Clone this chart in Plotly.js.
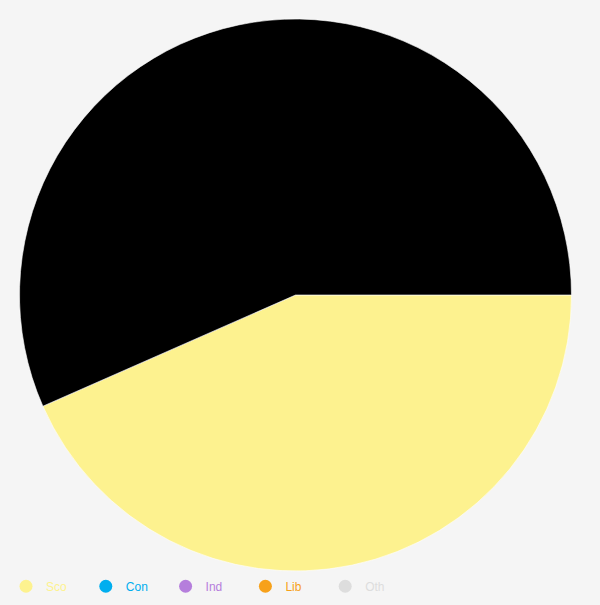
<!DOCTYPE html>
<html>
<head>
<meta charset="utf-8">
<script src="https://cdn.plot.ly/plotly-3.0.1.min.js"></script>
<style>html,body{margin:0;padding:0;background:#f5f5f5;}#chart{width:600px;height:605px;}</style>
</head>
<body>
<div id="chart"></div>
<script>
const sliceLabels = ["Sco", "Rest"];
const sliceValues = [43.4, 56.6];
const sliceColors = ["#fdf28f", "#000000"];

const legendNames = ["Sco", "Con", "Ind", "Lib", "Oth"];
const legendColors = ["#fdf28f", "#00aeef", "#b57edc", "#f7a11a", "#dddddd"];

const traces = [{
  type: "pie",
  labels: sliceLabels,
  values: sliceValues,
  marker: {colors: sliceColors, line: {color: "#ffffff", width: 0.6}},
  sort: false,
  direction: "clockwise",
  rotation: 90,
  textinfo: "none",
  hoverinfo: "label+percent",
  showlegend: false
}];
legendNames.forEach((n, i) => {
  traces.push({
    type: "scatter",
    mode: "markers",
    x: [null], y: [null],
    name: '<span style="color:' + legendColors[i] + '">' + n + '</span>',
    marker: {color: legendColors[i], size: 13, symbol: "circle"},
    showlegend: true,
    hoverinfo: "skip"
  });
});

const layout = {
  width: 600, height: 605,
  paper_bgcolor: "#f5f5f5",
  plot_bgcolor: "#f5f5f5",
  margin: {l: 19, r: 28, t: 19, b: 34, autoexpand: false},
  font: {family: "Liberation Sans, Arial, sans-serif", size: 12, color: "#444"},
  xaxis: {visible: false},
  yaxis: {visible: false},
  showlegend: true,
  legend: {
    orientation: "h",
    xref: "container", yref: "container",
    x: 0.01, xanchor: "left",
    y: 0.031, yanchor: "middle",
    entrywidth: 34.8, entrywidthmode: "pixels",
    bgcolor: "rgba(0,0,0,0)",
    font: {size: 12}
  }
};

Plotly.newPlot("chart", traces, layout, {displayModeBar: false, staticPlot: true});
</script>
</body>
</html>
